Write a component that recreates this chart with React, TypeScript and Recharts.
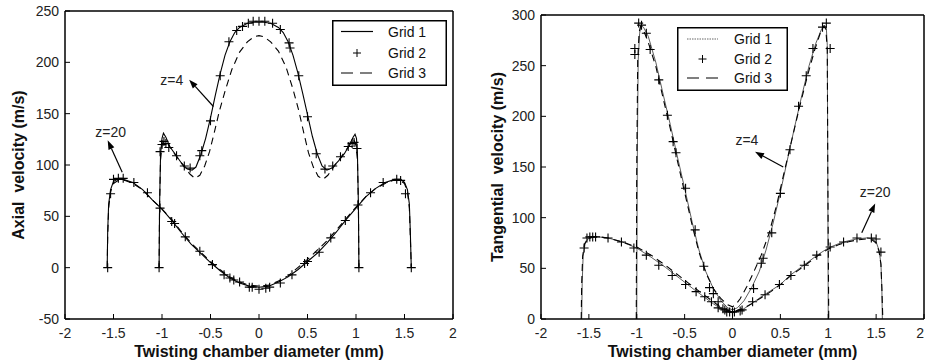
import { LineChart, Line, XAxis, YAxis, Legend, ReferenceLine, ReferenceDot } from 'recharts'

const FONT = '"Liberation Sans", Arial, Helvetica, sans-serif'

const xTicks = [-2, -1.5, -1, -0.5, 0, 0.5, 1, 1.5, 2]
const axialTicks = [-50, 0, 50, 100, 150, 200, 250]
const tangTicks = [0, 50, 100, 150, 200, 250, 300]
const legendLabels = ['Grid 1', 'Grid 2', 'Grid 3']

// axial velocity, z=4
const axialZ4Grid1 = [[-1.03, 0], [-1.025, 60], [-1.015, 110], [-1.0, 126], [-0.985, 131], [-0.96, 127], [-0.92, 118], [-0.86, 110], [-0.8, 102], [-0.74, 96], [-0.69, 95], [-0.65, 98], [-0.6, 110], [-0.55, 126], [-0.5, 146], [-0.45, 168], [-0.4, 189], [-0.35, 207], [-0.3, 220], [-0.25, 229], [-0.2, 234], [-0.12, 238], [-0.05, 239], [0.05, 239], [0.12, 238], [0.2, 234], [0.25, 229], [0.3, 220], [0.35, 207], [0.4, 190], [0.45, 170], [0.5, 149], [0.55, 128], [0.6, 111], [0.65, 99], [0.7, 95], [0.75, 97], [0.82, 104], [0.88, 111], [0.93, 119], [0.97, 127], [0.99, 130], [1.005, 126], [1.015, 110], [1.025, 60], [1.03, 0]]
const axialZ4Grid2 = [[-1.03, 0], [-1.02, 113], [-1.0, 120], [-0.98, 123], [-0.96, 121], [-0.93, 117], [-0.85, 109], [-0.77, 99], [-0.71, 97], [-0.61, 109], [-0.59, 114], [-0.5, 143], [-0.4, 187], [-0.31, 220], [-0.23, 231], [-0.17, 235], [-0.11, 238], [-0.06, 240], [0, 240], [0.06, 240], [0.14, 238], [0.22, 232], [0.31, 219], [0.32, 214], [0.41, 187], [0.5, 147], [0.59, 111], [0.68, 96], [0.76, 99], [0.84, 108], [0.92, 118], [0.96, 121], [0.98, 122], [1.01, 116], [1.03, 0]]
const axialZ4Grid3 = [[-1.03, 0], [-1.025, 60], [-1.015, 105], [-1.0, 119], [-0.98, 124], [-0.95, 122], [-0.9, 115], [-0.84, 107], [-0.77, 98], [-0.71, 91], [-0.66, 87], [-0.61, 90], [-0.56, 99], [-0.51, 113], [-0.46, 132], [-0.41, 152], [-0.35, 172], [-0.28, 193], [-0.2, 210], [-0.12, 220], [-0.05, 225], [0, 226], [0.05, 225], [0.12, 220], [0.2, 211], [0.28, 195], [0.35, 174], [0.41, 153], [0.46, 132], [0.51, 112], [0.56, 98], [0.61, 89], [0.66, 86], [0.71, 90], [0.77, 98], [0.84, 107], [0.9, 115], [0.95, 121], [0.98, 124], [1.0, 119], [1.015, 105], [1.025, 60], [1.03, 0]]

// axial velocity, z=20
const axialZ20Grid1 = [[-1.565, 0], [-1.56, 35], [-1.55, 62], [-1.53, 76], [-1.5, 84], [-1.46, 86], [-1.4, 86], [-1.3, 83], [-1.2, 76], [-1.1, 66], [-1.0, 57], [-0.9, 46], [-0.8, 34], [-0.7, 23], [-0.6, 14], [-0.5, 5], [-0.4, -3], [-0.3, -10], [-0.2, -15], [-0.1, -18], [0, -19], [0.1, -18], [0.2, -14], [0.3, -9], [0.4, -2], [0.5, 6], [0.6, 14], [0.7, 24], [0.8, 35], [0.9, 47], [1.0, 58], [1.1, 69], [1.2, 77], [1.3, 83], [1.4, 86], [1.46, 86], [1.5, 83], [1.53, 76], [1.55, 62], [1.56, 35], [1.57, 0]]
const axialZ20Grid2 = [[-1.56, 0], [-1.53, 72], [-1.5, 86], [-1.45, 87], [-1.4, 87], [-1.29, 83], [-1.15, 73], [-1.02, 58], [-0.9, 45], [-0.87, 43], [-0.76, 30], [-0.61, 16], [-0.48, 3], [-0.36, -7], [-0.3, -10], [-0.26, -12], [-0.2, -14], [-0.1, -19], [-0.07, -19], [0, -21], [0.07, -20], [0.11, -19], [0.22, -15], [0.34, -7], [0.47, 4], [0.5, 6], [0.62, 15], [0.74, 29], [0.89, 46], [1.02, 61], [1.15, 73], [1.28, 83], [1.42, 86], [1.46, 85], [1.51, 72], [1.57, 0]]
const axialZ20Grid3 = [[-1.565, 0], [-1.56, 30], [-1.55, 58], [-1.53, 74], [-1.5, 82], [-1.45, 85], [-1.38, 85], [-1.3, 82], [-1.2, 76], [-1.1, 66], [-1.0, 57], [-0.9, 47], [-0.8, 35], [-0.7, 24], [-0.6, 15], [-0.5, 6], [-0.4, -2], [-0.3, -9], [-0.2, -14], [-0.1, -17], [0, -18], [0.1, -17], [0.2, -13], [0.3, -8], [0.4, 0], [0.5, 8], [0.6, 17], [0.7, 26], [0.8, 37], [0.9, 48], [1.0, 59], [1.1, 69], [1.2, 77], [1.3, 82], [1.38, 85], [1.45, 85], [1.5, 82], [1.53, 74], [1.55, 58], [1.56, 30], [1.57, 0]]

// tangential velocity, z=4
const tangZ4Grid1 = [[-1.0, 0], [-0.995, 150], [-0.985, 255], [-0.97, 282], [-0.955, 290], [-0.93, 288], [-0.88, 279], [-0.8, 253], [-0.72, 220], [-0.65, 192], [-0.58, 162], [-0.5, 129], [-0.42, 95], [-0.35, 68], [-0.28, 47], [-0.2, 30], [-0.12, 18], [-0.05, 11], [0, 9], [0.05, 11], [0.12, 18], [0.2, 31], [0.28, 47], [0.35, 68], [0.42, 93], [0.5, 125], [0.58, 160], [0.65, 190], [0.72, 219], [0.8, 250], [0.87, 272], [0.93, 286], [0.96, 290], [0.98, 287], [0.99, 270], [0.995, 150], [1.0, 0]]
const tangZ4Grid2 = [[-1.02, 261], [-1.02, 267], [-0.98, 292], [-0.95, 290], [-0.9, 282], [-0.86, 266], [-0.77, 236], [-0.68, 201], [-0.62, 175], [-0.59, 164], [-0.49, 129], [-0.39, 88], [-0.3, 52], [-0.24, 31], [-0.2, 25], [-0.15, 17], [-0.1, 10], [-0.06, 7], [0, 7], [0.08, 8], [0.22, 30], [0.3, 55], [0.32, 60], [0.41, 85], [0.5, 124], [0.6, 167], [0.69, 210], [0.77, 240], [0.84, 267], [0.94, 288], [0.98, 292], [1.02, 267]]
const tangZ4Grid3 = [[-1.005, 0], [-1.0, 150], [-0.99, 255], [-0.975, 283], [-0.96, 289], [-0.94, 287], [-0.89, 276], [-0.8, 249], [-0.72, 216], [-0.65, 188], [-0.58, 158], [-0.5, 125], [-0.42, 92], [-0.35, 66], [-0.28, 46], [-0.2, 30], [-0.12, 20], [-0.05, 14], [0, 12], [0.04, 15], [0.08, 20], [0.15, 32], [0.22, 46], [0.3, 63], [0.38, 84], [0.46, 112], [0.54, 145], [0.62, 177], [0.7, 209], [0.78, 239], [0.86, 266], [0.92, 283], [0.955, 289], [0.975, 286], [0.99, 265], [0.995, 150], [1.005, 0]]

// tangential velocity, z=20
const tangZ20Grid1 = [[-1.575, 0], [-1.57, 35], [-1.56, 62], [-1.54, 74], [-1.51, 79], [-1.46, 81], [-1.4, 81], [-1.3, 80], [-1.15, 76], [-1.0, 70], [-0.85, 61], [-0.7, 51], [-0.55, 40], [-0.4, 29], [-0.3, 22], [-0.2, 15], [-0.1, 9], [0, 6], [0.1, 9], [0.2, 15], [0.3, 22], [0.4, 28], [0.5, 34], [0.6, 43], [0.7, 50], [0.8, 57], [0.9, 64], [1.0, 70], [1.1, 74], [1.2, 77], [1.3, 79], [1.4, 80], [1.46, 79], [1.5, 76], [1.53, 68], [1.55, 55], [1.56, 30], [1.565, 0]]
const tangZ20Grid2 = [[-1.55, 70], [-1.52, 80], [-1.49, 81], [-1.46, 81], [-1.43, 81], [-1.3, 80], [-1.16, 76], [-1.03, 70], [-0.9, 63], [-0.77, 53], [-0.63, 43], [-0.49, 34], [-0.38, 27], [-0.29, 22], [-0.22, 17], [-0.15, 11], [-0.08, 9], [-0.03, 7], [0.02, 7], [0.1, 9], [0.21, 17], [0.34, 24], [0.49, 34], [0.61, 43], [0.75, 53], [0.88, 63], [1.02, 71], [1.16, 76], [1.3, 80], [1.45, 80], [1.5, 79], [1.55, 66]]
const tangZ20Grid3 = [[-1.58, 0], [-1.575, 35], [-1.565, 62], [-1.545, 74], [-1.51, 80], [-1.45, 81], [-1.38, 81], [-1.3, 80], [-1.15, 76], [-1.0, 71], [-0.85, 63], [-0.7, 53], [-0.55, 42], [-0.4, 31], [-0.3, 24], [-0.2, 17], [-0.1, 10], [0, 7], [0.1, 10], [0.2, 15], [0.3, 21], [0.4, 27], [0.5, 34], [0.6, 42], [0.7, 49], [0.8, 56], [0.9, 63], [1.0, 69], [1.1, 73], [1.2, 76], [1.3, 78], [1.4, 79], [1.46, 78], [1.5, 75], [1.53, 67], [1.55, 54], [1.56, 30], [1.57, 0]]

// annotations: label position, arrow tail, arrow head (data units)
const axialNotes = [
  { text: 'z=4', at: [-0.9, 183], tail: [-0.47, 157], head: [-0.72, 183] },
  { text: 'z=20', at: [-1.53, 132], tail: [-1.41, 93], head: [-1.56, 124] },
]
const tangNotes = [
  { text: 'z=4', at: [0.15, 177], tail: [0.53, 150], head: [0.235, 165] },
  { text: 'z=20', at: [1.49, 125], tail: [1.35, 85], head: [1.49, 114] },
]

const toPts = (arr: number[][]) => arr.map(([x, y]) => ({ x, y }))

function PlusDot(props: any) {
  const { cx, cy } = props
  if (typeof cx !== 'number' || typeof cy !== 'number') return <g key={props.key} />
  const s = 4.5
  return <path key={props.key} d={`M${cx - s},${cy}H${cx + s}M${cx},${cy - s}V${cy + s}`} stroke="#000" strokeWidth={1.1} fill="none" />
}

// bottom tick label, nudged left when it would run past the chart's right edge
function XTick(props: any) {
  const { x, y, payload, limit } = props
  const label = String(payload.value)
  const w = label.length * 7.8
  const cx = Math.min(x, limit - w / 2 - 1)
  return <text x={cx} y={y} dy="0.71em" textAnchor="middle" fill="#222" fontSize={14} fontFamily={FONT}>{label}</text>
}

function Arrow(props: any) {
  const { x1, y1, x2, y2 } = props
  if ([x1, y1, x2, y2].some(v => typeof v !== 'number' || isNaN(v))) return <g />
  const a = Math.atan2(y2 - y1, x2 - x1)
  const len = 9
  const half = 3.2
  const bx = x2 - len * Math.cos(a)
  const by = y2 - len * Math.sin(a)
  const nx = -Math.sin(a)
  const ny = Math.cos(a)
  return (
    <g>
      <line x1={x1} y1={y1} x2={bx} y2={by} stroke="#000" strokeWidth={1.2} />
      <polygon points={`${x2},${y2} ${bx + nx * half},${by + ny * half} ${bx - nx * half},${by - ny * half}`} fill="#000" />
    </g>
  )
}

function LegendBox({ w, h, rows, lineX, textX, thin }: { w: number; h: number; rows: number[]; lineX: [number, number]; textX: number; thin: boolean }) {
  const mid = (lineX[0] + lineX[1]) / 2
  return (
    <svg width={w} height={h} style={{ display: 'block' }}>
      <rect x={0.75} y={0.75} width={w - 1.5} height={h - 1.5} fill="#fff" stroke="#000" strokeWidth={1.5} />
      <line x1={lineX[0]} x2={lineX[1]} y1={rows[0]} y2={rows[0]} stroke={thin ? '#666' : '#000'} strokeWidth={thin ? 1 : 1.2} strokeDasharray={thin ? '1.5 1' : undefined} />
      <path d={`M${mid - 4},${rows[1]}H${mid + 4}M${mid},${rows[1] - 4}V${rows[1] + 4}`} stroke="#000" strokeWidth={1} />
      <line x1={lineX[0]} x2={lineX[1]} y1={rows[2]} y2={rows[2]} stroke="#000" strokeWidth={1.2} strokeDasharray="12 7" />
      {legendLabels.map((t, i) => (
        <text key={t} x={textX} y={rows[i] + 5} fontSize={14} fontFamily={FONT} fill="#111">{t}</text>
      ))}
    </svg>
  )
}

interface PanelProps {
  left: number
  width: number
  margin: { top: number; right: number; left: number; bottom: number }
  axisWidth: number
  yLabel: string
  yLabelX: number
  yDomain: [number, number]
  yTicks: number[]
  grid1: number[][][]
  grid2: number[][][]
  grid3: number[][][]
  notes: { text: string; at: number[]; tail: number[]; head: number[] }[]
  legend: { left: number; top: number; w: number; h: number; rows: number[]; lineX: [number, number]; textX: number }
  thinGrid1: boolean
}

function Panel(p: PanelProps) {
  const tickStyle = { fill: '#222', fontSize: 14, fontFamily: FONT }
  const axisLine = { stroke: '#000', strokeWidth: 1.5 }
  const tickLine = { stroke: '#000', strokeWidth: 1 }
  return (
    <div style={{ position: 'absolute', left: p.left, top: 0 }}>
      <LineChart width={p.width} height={364} margin={p.margin}>
        <XAxis
          dataKey="x" type="number" domain={[-2, 2]} ticks={xTicks} interval={0}
          tickSize={-5} tickMargin={14} height={45} axisLine={axisLine} tickLine={tickLine}
          tick={(tp: any) => <XTick {...tp} limit={p.width} />}
          label={{ value: 'Twisting chamber diameter (mm)', position: 'insideBottom', offset: 7, fill: '#111', fontSize: 16, fontWeight: 'bold', fontFamily: FONT }}
        />
        <XAxis xAxisId="top" orientation="top" dataKey="x" type="number" domain={[-2, 2]} ticks={xTicks} interval={0}
          tickSize={-5} tick={false} height={1} axisLine={axisLine} tickLine={tickLine} />
        <YAxis
          type="number" domain={p.yDomain} ticks={p.yTicks} interval={0} width={p.axisWidth}
          tickSize={-5} tickMargin={11} axisLine={axisLine} tickLine={tickLine} tick={tickStyle}
          label={{ value: p.yLabel, angle: -90, position: 'insideLeft', offset: p.yLabelX, fill: '#111', fontSize: 16, fontWeight: 'bold', fontFamily: FONT, style: { textAnchor: 'middle' } }}
        />
        <YAxis yAxisId="right" orientation="right" type="number" domain={p.yDomain} ticks={p.yTicks} interval={0}
          width={1} tickSize={-5} tick={false} axisLine={axisLine} tickLine={tickLine} />
        {p.grid1.map((d, i) => (
          <Line key={`g1-${i}`} data={toPts(d)} dataKey="y" type="linear" stroke={p.thinGrid1 ? '#333' : '#000'}
            strokeWidth={p.thinGrid1 ? 0.8 : 1.1} dot={false} activeDot={false} isAnimationActive={false} />
        ))}
        {p.grid3.map((d, i) => (
          <Line key={`g3-${i}`} data={toPts(d)} dataKey="y" type="linear" stroke="#000" strokeWidth={1.1}
            strokeDasharray="7 5" dot={false} activeDot={false} isAnimationActive={false} />
        ))}
        {p.grid2.map((d, i) => (
          <Line key={`g2-${i}`} data={toPts(d)} dataKey="y" type="linear" stroke="none"
            dot={PlusDot} activeDot={false} isAnimationActive={false} />
        ))}
        {p.notes.map(n => (
          <ReferenceLine key={`a-${n.text}`} segment={[{ x: n.tail[0], y: n.tail[1] }, { x: n.head[0], y: n.head[1] }]}
            shape={Arrow} ifOverflow="visible" />
        ))}
        {p.notes.map(n => (
          <ReferenceDot key={`t-${n.text}`} x={n.at[0]} y={n.at[1]} r={0} fill="none" stroke="none" ifOverflow="visible"
            label={{ value: n.text, position: 'center', fill: '#222', fontSize: 14, fontFamily: FONT }} />
        ))}
        <Legend
          layout="vertical" align="center" verticalAlign="middle"
          wrapperStyle={{ left: p.legend.left, top: p.legend.top, width: p.legend.w, height: p.legend.h }}
          content={() => <LegendBox w={p.legend.w} h={p.legend.h} rows={p.legend.rows} lineX={p.legend.lineX} textX={p.legend.textX} thin={p.thinGrid1} />}
        />
      </LineChart>
    </div>
  )
}

export default function App() {
  return (
    <div style={{ position: 'absolute', left: 0, top: 0, width: 925, height: 364, background: '#fff', overflow: 'hidden' }}>
      <Panel
        left={0} width={470} margin={{ top: 10, right: 16, left: 0, bottom: 0 }} axisWidth={65}
        yLabel={'Axial\u00a0 velocity (m/s)'} yLabelX={18} yDomain={[-50, 250]} yTicks={axialTicks}
        grid1={[axialZ4Grid1, axialZ20Grid1]} grid2={[axialZ4Grid2, axialZ20Grid2]} grid3={[axialZ4Grid3, axialZ20Grid3]}
        notes={axialNotes}
        legend={{ left: 332, top: 20, w: 115, h: 66, rows: [11.5, 33, 53], lineX: [9, 41], textX: 56 }}
        thinGrid1={false}
      />
      <Panel
        left={460} width={465} margin={{ top: 14, right: 0, left: 0, bottom: 0 }} axisWidth={81}
        yLabel={'Tangential\u00a0 velocity (m/s)'} yLabelX={37} yDomain={[0, 300]} yTicks={tangTicks}
        grid1={[tangZ4Grid1, tangZ20Grid1]} grid2={[tangZ4Grid2, tangZ20Grid2]} grid3={[tangZ4Grid3, tangZ20Grid3]}
        notes={tangNotes}
        legend={{ left: 217, top: 27, w: 111, h: 64, rows: [12, 32, 51], lineX: [10, 41], textX: 57 }}
        thinGrid1={true}
      />
    </div>
  )
}
